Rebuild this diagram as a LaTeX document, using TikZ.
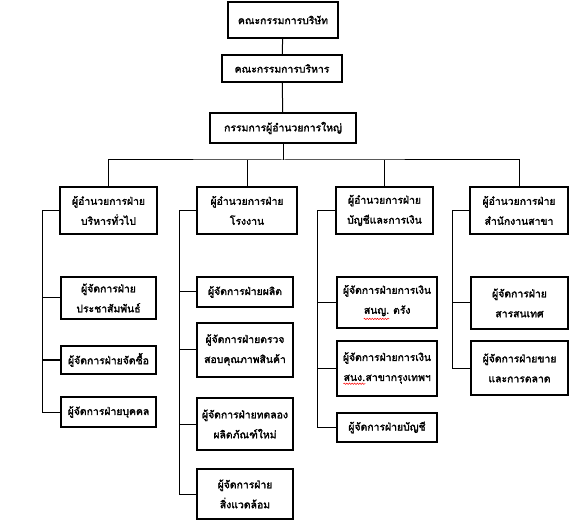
\documentclass[tikz,border=0pt]{standalone}
\usepackage{fontspec}
\usetikzlibrary{decorations.pathmorphing}
\newfontfamily\thaifont[Script=Thai,FakeBold=2]{Loma}
\newcommand\redwave[1]{\tikz[baseline=(w.base)]{\node[inner sep=0pt,draw=none,minimum width=0pt,minimum height=0pt] (w) {#1};
  \draw[red,line width=0.5pt,decorate,decoration={snake,amplitude=0.7pt,segment length=2.6pt}] ([yshift=-2.5pt]w.south west) -- ([yshift=-2.5pt]w.south east);}}
\begin{document}
\begin{tikzpicture}[x=1pt,y=-1pt,
  box/.style={draw, line width=1.2pt, inner sep=0pt, align=center,
    font=\thaifont\fontsize{10.4}{20}\selectfont},
  conn/.style={line width=1pt}]
\useasboundingbox (0,0) rectangle (578,526);
% top chain
\node[box, minimum width=110pt, minimum height=36pt] (b1) at (283,20) {คณะกรรมการบริษัท};
\node[box, minimum width=120pt, minimum height=27pt] (b2) at (282,68.5) {คณะกรรมการบริหาร};
\node[box, minimum width=146pt, minimum height=30pt] (b3) at (283,128) {กรรมการผู้อำนวยการใหญ่};
% level 2
\node[box, minimum width=97pt, minimum height=47pt] (A) at (108.5,210.5) {ผู้อำนวยการฝ่าย\\บริหารทั่วไป};
\node[box, minimum width=100pt, minimum height=47pt] (B) at (247,210.5) {ผู้อำนวยการฝ่าย\\โรงงาน};
\node[box, minimum width=97pt, minimum height=47pt] (C) at (384.5,210.5) {ผู้อำนวยการฝ่าย\\บัญชีและการเงิน};
\node[box, minimum width=98pt, minimum height=47pt] (D) at (519,210.5) {ผู้อำนวยการฝ่าย\\สำนักงานสาขา};
% column A
\node[box, minimum width=95pt, minimum height=42pt] (A1) at (108.5,298) {ผู้จัดการฝ่าย\\ประชาสัมพันธ์};
\node[box, minimum width=95pt, minimum height=28pt] (A2) at (108.5,360) {ผู้จัดการฝ่ายจัดซื้อ};
\node[box, minimum width=95pt, minimum height=30pt] (A3) at (108.5,412) {ผู้จัดการฝ่ายบุคคล};
% column B
\node[box, minimum width=96pt, minimum height=30pt] (B1) at (245,292) {ผู้จัดการฝ่ายผลิต};
\node[box, minimum width=96pt, minimum height=54pt] (B2) at (245,350) {ผู้จัดการฝ่ายตรวจ\\สอบคุณภาพสินค้า};
\node[box, minimum width=96pt, minimum height=52pt] (B3) at (245,424) {ผู้จัดการฝ่ายทดลอง\\ผลิตภัณฑ์ใหม่};
\node[box, minimum width=96pt, minimum height=50pt] (B4) at (245,494) {ผู้จัดการฝ่าย\\สิ่งแวดล้อม};
% column C
\node[box, minimum width=100pt, minimum height=51pt] (C1) at (387,302.5) {ผู้จัดการฝ่ายการเงิน\\\redwave{สนญ.} ตรัง};
\node[box, minimum width=100pt, minimum height=55pt] (C2) at (387,368.5) {ผู้จัดการฝ่ายการเงิน\\\redwave{สนง.}สาขากรุงเทพฯ};
\node[box, minimum width=100pt, minimum height=29pt] (C3) at (387,427.5) {ผู้จัดการฝ่ายบัญชี};
% column D
\node[box, minimum width=97pt, minimum height=52pt] (D1) at (519.5,303) {ผู้จัดการฝ่าย\\สารสนเทศ};
\node[box, minimum width=97pt, minimum height=54pt] (D2) at (519.5,368) {ผู้จัดการฝ่ายขาย\\และการตลาด};
% connectors
\coordinate (bus) at (283,160);
\draw[conn] (b1) -- (b2);
\draw[conn] (b2) -- (b3);
\draw[conn] (b3.south) -- (bus);
\draw[conn] (A.north) |- (bus) -| (D.north);
\draw[conn] (B.north) -- (B.north |- bus);
\draw[conn] (C.north) -- (C.north |- bus);
\coordinate (ra) at (42,0);
\coordinate (rb) at (179,0);
\coordinate (rc) at (317,0);
\coordinate (rd) at (452,0);
\draw[conn] (A.west) -- (A.west -| ra) |- (A3.west);
\draw[conn] (A1.west -| ra) -- (A1.west);
\draw[conn] (A2.west -| ra) -- (A2.west);
\draw[conn] (B.west) -- (B.west -| rb) |- (B4.west);
\draw[conn] (B1.west -| rb) -- (B1.west);
\draw[conn] (B2.west -| rb) -- (B2.west);
\draw[conn] (B3.west -| rb) -- (B3.west);
\draw[conn] (C.west) -- (C.west -| rc) |- (C3.west);
\draw[conn] (C1.west -| rc) -- (C1.west);
\draw[conn] (C2.west -| rc) -- (C2.west);
\draw[conn] (D.west) -- (D.west -| rd) |- (D2.west);
\draw[conn] (D1.west -| rd) -- (D1.west);
\end{tikzpicture}
\end{document}
